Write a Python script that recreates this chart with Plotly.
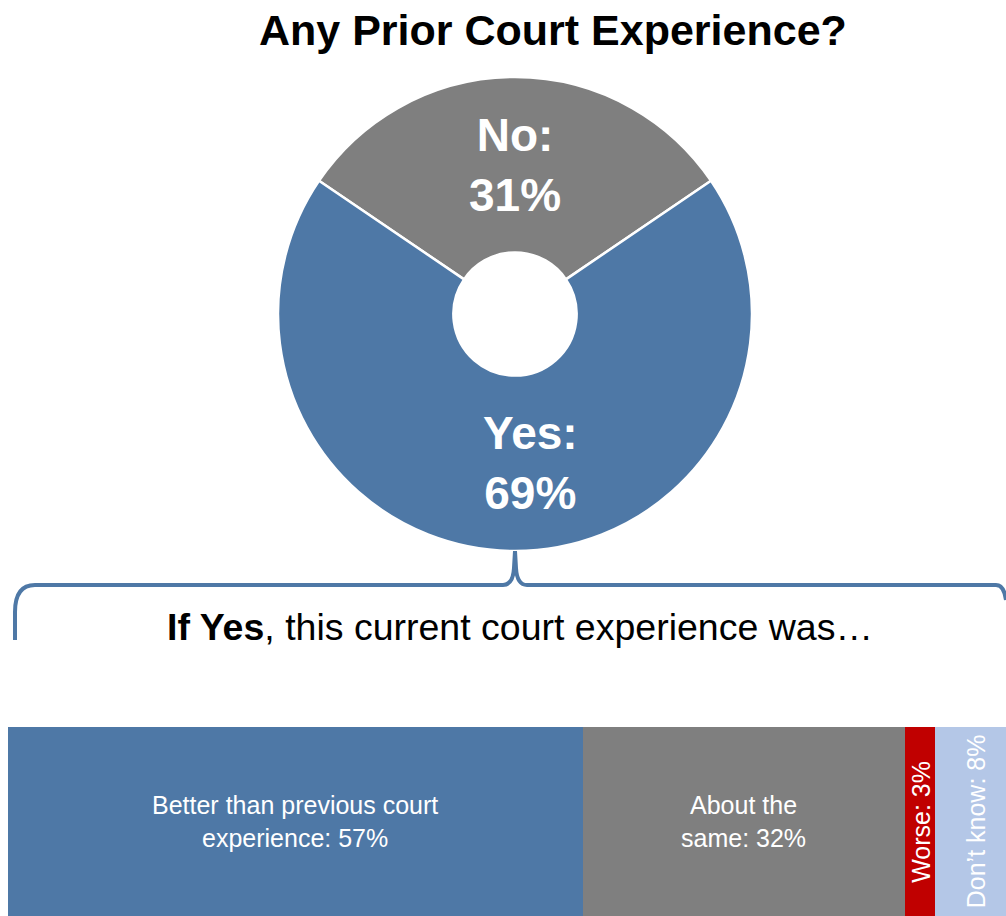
import numpy as np
import plotly.graph_objects as go

W, H = 1006, 916

# Donut: any prior court experience
pie_labels = ["No", "Yes"]
pie_values = [31, 69]
pie_colors = ["#7f7f7f", "#4e78a6"]

# Stacked bar: how this experience compared
bar_labels = ["Better than previous court<br>experience", "About the<br>same", "Worse", "Don\u2019t know"]
bar_values = [57, 32, 3, 8]
bar_colors = ["#4e78a6", "#7f7f7f", "#c00000", "#b4c7e7"]
bar_angles = [0, 0, -90, -90]

title_text = "Any Prior Court Experience?"
subtitle_text = "<b>If Yes</b>, this current court experience was\u2026"


def px(x):
    return x / W


def py(y):
    return 1 - y / H


fig = go.Figure()

# donut geometry (pixels)
cx, cy, R = 515, 314, 237
fig.add_trace(go.Pie(
    labels=pie_labels,
    values=pie_values,
    sort=False,
    direction="clockwise",
    rotation=-pie_values[0] / sum(pie_values) * 180,
    hole=0.26,
    marker=dict(colors=pie_colors, line=dict(color="white", width=2.5)),
    textinfo="none",
    hoverinfo="label+percent",
    showlegend=False,
    domain=dict(x=[px(cx - R), px(cx + R)], y=[py(cy + R), py(cy - R)]),
))

# slice labels placed at each slice's mid-angle
total = sum(pie_values)
start = -pie_values[0] / total * 180
label_xshift = [0, 15]
annotations = []
for lab, val, dx in zip(pie_labels, pie_values, label_xshift):
    mid = np.radians(start + val / total * 180)
    start += val / total * 360
    r = 0.63 * R
    ax = cx + r * np.sin(mid)
    ay = cy - r * np.cos(mid)
    annotations.append(dict(
        x=px(ax), y=py(ay), xref="paper", yref="paper", xshift=dx,
        text=f"<b>{lab}:<br>{val}%</b>", showarrow=False,
        font=dict(family="Liberation Sans, Arial", size=46, color="white"),
        xanchor="center", yanchor="middle",
    ))

# stacked horizontal bar
for lab, val, col in zip(bar_labels, bar_values, bar_colors):
    fig.add_trace(go.Bar(
        y=[0], x=[val], orientation="h",
        marker=dict(color=col, line=dict(width=0)),
        name=lab.replace("<br>", " "), showlegend=False,
        hoverinfo="name+x",
    ))

cum = 0
for lab, val, ang in zip(bar_labels, bar_values, bar_angles):
    annotations.append(dict(
        x=cum + val / 2, y=0, xref="x", yref="y",
        text=f"{lab}: {val}%", showarrow=False, textangle=ang,
        font=dict(family="Liberation Sans, Arial", size=25, color="white"),
        xanchor="center", yanchor="middle",
    ))
    cum += val

annotations.append(dict(
    x=px(553), y=py(30), xref="paper", yref="paper", text=f"<b>{title_text}</b>",
    showarrow=False, xanchor="center", yanchor="middle",
    font=dict(family="Liberation Sans, Arial", size=43, color="black"),
))
annotations.append(dict(
    x=px(520), y=py(627), xref="paper", yref="paper", text=subtitle_text,
    showarrow=False, xanchor="center", yanchor="middle",
    font=dict(family="Liberation Sans, Arial", size=37.5, color="black"),
))

# curly bracket linking "Yes" to the bar
pts = [("M", 15, 640), ("L", 15, 612), ("Q", 15, 585, 35, 585), ("L", 503, 585),
       ("Q", 513, 585, 514, 568), ("L", 515, 551), ("L", 516, 568),
       ("Q", 517, 585, 527, 585), ("L", 996, 585), ("Q", 1004, 585, 1006, 600)]
segs = []
for p in pts:
    cmd, coords = p[0], p[1:]
    xy = []
    for i in range(0, len(coords), 2):
        xy.append(f"{px(coords[i]):.5f},{py(coords[i + 1]):.5f}")
    segs.append(cmd + " " + " ".join(xy))
brace_path = " ".join(segs)

fig.update_layout(
    width=W, height=H,
    margin=dict(l=0, r=0, t=0, b=0),
    paper_bgcolor="white", plot_bgcolor="white",
    barmode="stack", bargap=0,
    xaxis=dict(domain=[px(8), 1], range=[0, 99], visible=False, fixedrange=True),
    yaxis=dict(domain=[0, 1 - 727 / H], range=[-0.5, 0.5], visible=False, fixedrange=True),
    annotations=annotations,
    shapes=[dict(type="path", path=brace_path, xref="paper", yref="paper",
                 line=dict(color="#4e78a6", width=4), fillcolor="rgba(0,0,0,0)")],
)

fig.write_html("out.html")
